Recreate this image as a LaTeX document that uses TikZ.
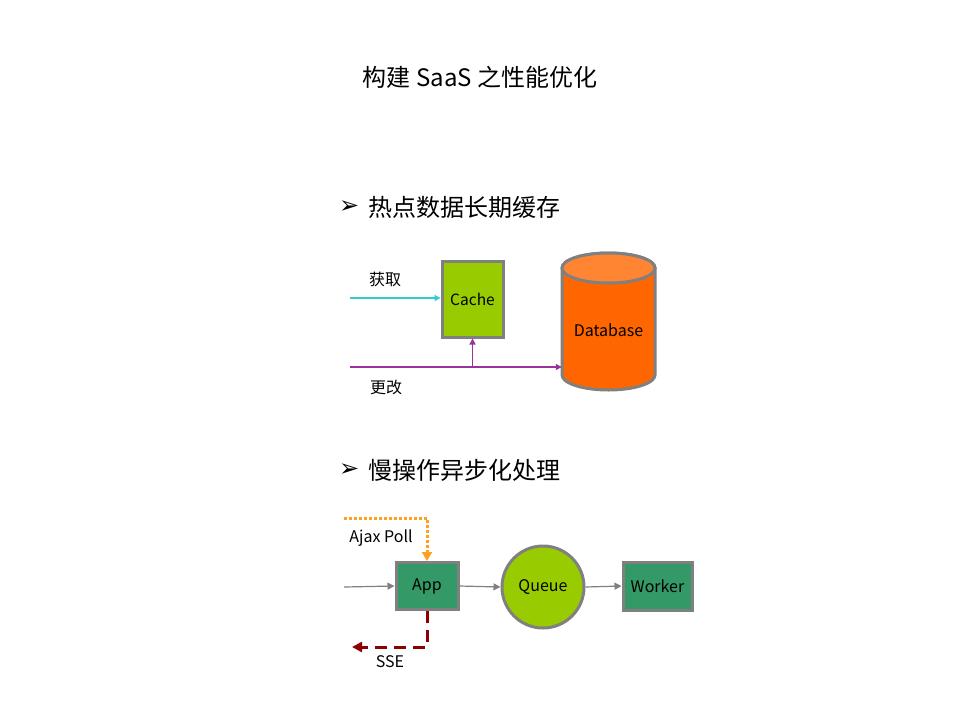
\documentclass[tikz,border=0pt]{standalone}
\usepackage{fontspec}
\setmainfont{Noto Sans CJK SC}
\newfontfamily\symf{DejaVu Sans}
\usetikzlibrary{arrows.meta}
\definecolor{cachegreen}{HTML}{99CC00}
\definecolor{dborange}{HTML}{FF6600}
\definecolor{dbtop}{HTML}{FF8533}
\definecolor{boxgray}{HTML}{808080}
\definecolor{appgreen}{HTML}{339966}
\definecolor{getcyan}{HTML}{33CCCC}
\definecolor{updpurple}{HTML}{993399}
\definecolor{ajaxorange}{HTML}{FFA020}
\definecolor{ssered}{HTML}{8B0000}
\begin{document}
\begin{tikzpicture}[x=1pt,y=-1pt,
  boxst/.style={draw=boxgray,line width=3pt,inner sep=0pt,font=\fontsize{16}{18}\selectfont},
  lbl/.style={font=\fontsize{16}{18}\selectfont,inner sep=0pt},
  head/.style={font=\fontsize{24}{27}\selectfont,inner sep=0pt,anchor=west},
  bul/.style={font=\symf\bfseries\fontsize{24}{26}\selectfont,inner sep=0pt,anchor=west},
  grayarr/.style={draw=boxgray,line width=1.2pt,-{Triangle[length=7pt,width=7pt]}},
]
\useasboundingbox (0,0) rectangle (960,720);
\fill[white] (0,0) rectangle (960,720);

\node[font=\fontsize{24}{27}\selectfont,inner sep=0pt] (title) at (480,77) {构建 SaaS 之性能优化};

\node[bul] (b1) at (339,207) {➢};
\node[head] (h1) at (368,207) {热点数据长期缓存};
\node[bul] (b2) at (339,470) {➢};
\node[head] (h2) at (368,470) {慢操作异步化处理};

% Cache
\node[boxst,fill=cachegreen,minimum width=61pt,minimum height=76pt,font=\fontsize{15.5}{18}\selectfont] (cache) at (472.5,299) {Cache};

% Database cylinder (drawn directly)
\filldraw[draw=boxgray,line width=3pt,fill=dborange]
  (562,268) -- (562,375) arc[start angle=180,end angle=360,x radius=46.5pt,y radius=15pt]
  -- (655,268) arc[start angle=0,end angle=180,x radius=46.5pt,y radius=15pt] -- cycle;
\filldraw[draw=boxgray,line width=3pt,fill=dbtop] (608.5,268) ellipse[x radius=46.5pt,y radius=15pt];
\node[inner sep=0pt,minimum width=93pt,minimum height=137pt] (db) at (608.5,321.5) {};
\node[lbl] (dbl) at (608.5,330) {Database};

\coordinate (getstart) at (350,298);
\coordinate (updstart) at (350,367);
\coordinate (branch) at (472.5,367);
\draw[getcyan,line width=1.2pt,-{Triangle[length=6pt,width=6pt]}] (getstart) -- (getstart -| cache.west);
\draw[updpurple,line width=1.5pt,-{Triangle[length=6pt,width=6pt]}] (updstart) -- (updstart -| db.west);
\draw[updpurple,line width=1.5pt,-{Triangle[length=6pt,width=6pt]}] (branch) -- (cache.south);
\node[lbl] (get) at (385,279) {获取};
\node[lbl] (upd) at (386,387) {更改};

% second part
\node[boxst,fill=appgreen,minimum width=62pt,minimum height=47pt] (app) at (427,586) {App};
\node[circle,draw=boxgray,line width=3pt,fill=cachegreen,minimum size=82pt,inner sep=0pt,font=\fontsize{16}{18}\selectfont] (queue) at (543,587) {Queue};
\node[boxst,fill=appgreen,minimum width=69pt,minimum height=48pt] (worker) at (657.5,586) {Worker};

\coordinate (in) at (344,587);
\draw[grayarr] (in) -- (app.west);
\draw[grayarr] (app.east) -- (queue.west);
\draw[grayarr] (queue.east) -- (worker.west);

\coordinate (ajaxs) at (344,518);
\coordinate (ajaxc) at (427,518);
\draw[ajaxorange,line width=3pt,dash pattern=on 2.5pt off 2.5pt,-{Triangle[length=9pt,width=10pt]}] (ajaxs) -- (ajaxc) -- (app.north);
\node[lbl] (ajax) at (381,538) {Ajax Poll};

\coordinate (ssec) at (427,647);
\coordinate (ssee) at (352,647);
\draw[ssered,line width=3pt,dash pattern=on 12pt off 7pt,-{Triangle[length=10pt,width=10pt]}] (app.south) -- (ssec) -- (ssee);
\node[lbl] (sse) at (390,662) {SSE};
\end{tikzpicture}
\end{document}
